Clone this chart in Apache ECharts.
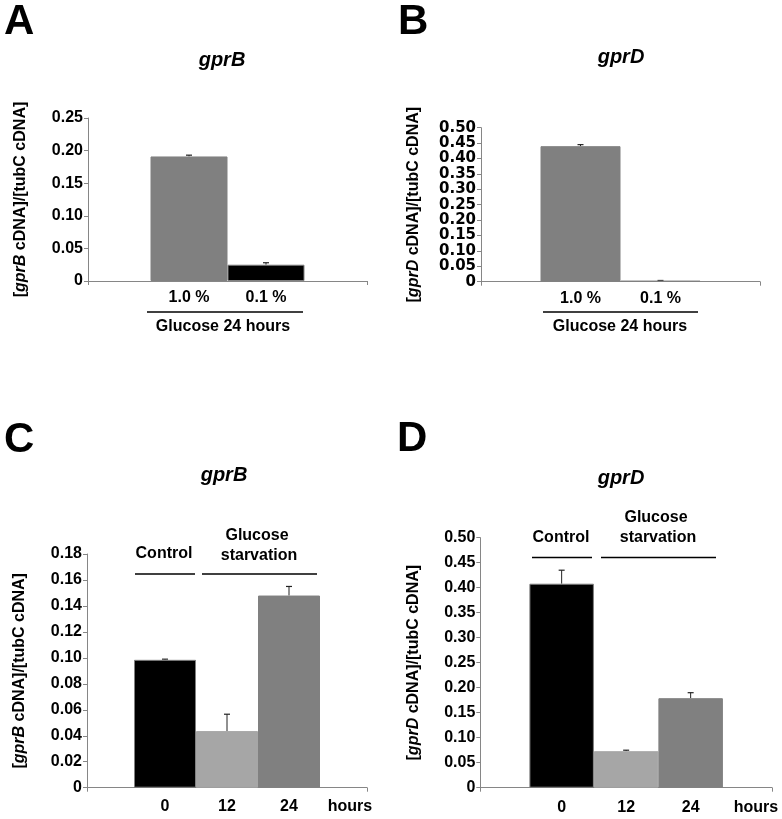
<!DOCTYPE html>
<html><head><meta charset="utf-8">
<script src="https://cdn.jsdelivr.net/npm/echarts@6/dist/echarts.min.js"></script>
<style>html,body{margin:0;padding:0;background:#fff}#c{width:782px;height:819px}</style>
</head><body><div id="c"></div>
<script>
// ---- data ----
const catsA = ['1.0 %', '0.1 %'];
const valsA = [0.191, 0.025];
const errA  = [0.002, 0.003];

const catsB = ['1.0 %', '0.1 %'];
const valsB = [0.440, 0.003];
const errB  = [0.005, 0.001];

const catsC = ['0', '12', '24'];
const valsC = [0.0985, 0.0436, 0.148];
const errC  = [0.0005, 0.013, 0.007];

const catsD = ['0', '12', '24'];
const valsD = [0.408, 0.073, 0.179];
const errD  = [0.027, 0.002, 0.011];

const ticksAB = { A: [0, 0.25, 0.05], B: [0, 0.5, 0.05] };
const ticksCD = { C: [0, 0.18, 0.02], D: [0, 0.5, 0.05] };

// ---- styling ----
const FF = 'Liberation Sans, Arial, sans-serif';
const FF_WIDE = 'DejaVu Sans, sans-serif';
const AX = '#868686';
const GRAY = '#808080', LIGHT = '#a6a6a6', BLACK = '#000000';

const panels = [
  { cats: catsA, vals: valsA, errs: errA, colors: [GRAY, BLACK], gene: 'gprB', range: ticksAB.A,
    grid: { left: 88, top: 118, width: 279, height: 163 }, bw: 77, labDist: 9, tickFont: 16, tickFF: FF },
  { cats: catsB, vals: valsB, errs: errB, colors: [GRAY, BLACK], gene: 'gprD', range: ticksAB.B,
    grid: { left: 481, top: 127.7, width: 279, height: 154 }, bw: 80, labDist: 9, tickFont: 15, tickFF: FF_WIDE },
  { cats: catsC, vals: valsC, errs: errC, colors: [BLACK, LIGHT, GRAY], gene: 'gprB', range: ticksCD.C,
    grid: { left: 87, top: 554, width: 280, height: 233.7 }, bw: 62, labDist: 11, tickFont: 16, tickFF: FF },
  { cats: catsD, vals: valsD, errs: errD, colors: [BLACK, LIGHT, GRAY], gene: 'gprD', range: ticksCD.D,
    grid: { left: 480.3, top: 537.7, width: 291.7, height: 250 }, bw: 64.5, labDist: 12, tickFont: 16, tickFF: FF }
];

const grid = [], xAxis = [], yAxis = [], series = [];
panels.forEach((p, k) => {
  grid.push(Object.assign({ containLabel: false }, p.grid));
  xAxis.push({
    type: 'category', gridIndex: k, data: ['g'],
    axisLine: { show: true, lineStyle: { color: AX, width: 1 } },
    axisTick: { show: true, length: 4, lineStyle: { color: AX } },
    axisLabel: { show: false }, splitLine: { show: false }
  });
  yAxis.push({
    type: 'value', gridIndex: k, min: p.range[0], max: p.range[1], interval: p.range[2],
    axisLine: { show: true, lineStyle: { color: AX, width: 1 } },
    axisTick: { show: true, length: 4, lineStyle: { color: AX } },
    splitLine: { show: false },
    axisLabel: { color: '#000', fontWeight: 'bold', fontSize: p.tickFont, fontFamily: p.tickFF, margin: 5,
      showMinLabel: true, showMaxLabel: true, hideOverlap: false,
      formatter: v => (v === 0 ? '0' : v.toFixed(2)) },
    name: '[{i|' + p.gene + '} cDNA]/[tubC cDNA]',
    nameLocation: 'middle', nameRotate: 90, nameGap: 59,
    nameTextStyle: { color: '#000', fontWeight: 'bold', fontSize: 16, fontFamily: FF,
      rich: { i: { fontStyle: 'italic', fontWeight: 'bold', fontSize: 16, fontFamily: FF, color: '#000' } } }
  });
  p.cats.forEach((c, i) => {
    series.push({
      type: 'bar', name: c, xAxisIndex: k, yAxisIndex: k,
      data: [p.vals[i]], barWidth: p.bw, barGap: '0%',
      itemStyle: { color: p.colors[i], borderColor: p.colors[i] === BLACK ? GRAY : p.colors[i], borderWidth: 1 },
      label: { show: true, position: 'bottom', distance: p.labDist, formatter: c,
        color: '#000', fontWeight: 'bold', fontSize: 16, fontFamily: FF },
      silent: true, animation: false
    });
  });
  const n = p.cats.length;
  series.push({
    type: 'custom', xAxisIndex: k, yAxisIndex: k, silent: true, animation: false,
    data: p.vals.map((v, i) => [0, v, p.errs[i], i]),
    encode: { x: 0, y: 1 },
    renderItem: (params, api) => {
      const v = api.value(1), e = api.value(2), idx = api.value(3);
      const base = api.coord([0, v]);
      const top = api.coord([0, v + e]);
      const x = base[0] + (idx - (n - 1) / 2) * p.bw;
      return { type: 'group', children: [
        { type: 'line', shape: { x1: x, y1: base[1], x2: x, y2: top[1] }, style: { stroke: '#222', lineWidth: 1 } },
        { type: 'line', shape: { x1: x - 3, y1: top[1], x2: x + 3, y2: top[1] }, style: { stroke: '#222', lineWidth: 1.2 } }
      ] };
    }
  });
});

function txt(t, x, y, size, extra) {
  return Object.assign({ type: 'text', x: x, y: y, silent: true,
    style: Object.assign({ text: t, fill: '#000', fontSize: size, fontWeight: 'bold', fontFamily: FF,
      align: 'center', verticalAlign: 'middle' }, extra || {}) });
}
function ln(x1, y, x2) {
  return { type: 'line', silent: true, shape: { x1: x1, y1: y, x2: x2, y2: y }, style: { stroke: '#000', lineWidth: 1.5 } };
}

const graphic = [
  txt('A', 4, 22, 42, { align: 'left' }),
  txt('B', 398, 22, 42, { align: 'left' }),
  txt('C', 4, 440, 42, { align: 'left' }),
  txt('D', 397, 439, 42, { align: 'left' }),
  txt('gprB', 222, 60, 20, { fontStyle: 'italic' }),
  txt('gprD', 621, 57, 20, { fontStyle: 'italic' }),
  txt('gprB', 224, 475, 20, { fontStyle: 'italic' }),
  txt('gprD', 621, 478, 20, { fontStyle: 'italic' }),
  ln(147, 312, 303), txt('Glucose 24 hours', 223, 327, 16),
  ln(543, 312, 698), txt('Glucose 24 hours', 620, 327, 16),
  txt('Control', 164, 554, 16), ln(135, 574, 195),
  txt('Glucose', 257, 535.5, 16), txt('starvation', 259, 555.5, 16), ln(202, 574, 317),
  txt('hours', 350, 807, 16),
  txt('Control', 561, 537.5, 16), ln(532, 557.5, 592),
  txt('Glucose', 656, 518, 16), txt('starvation', 658, 537.5, 16), ln(601, 557.5, 716),
  txt('hours', 756, 808, 16)
];

const chart = echarts.init(document.getElementById('c'), null, { renderer: 'canvas' });
chart.setOption({ animation: false, backgroundColor: '#fff', grid, xAxis, yAxis, series, graphic });
</script>
</body></html>
